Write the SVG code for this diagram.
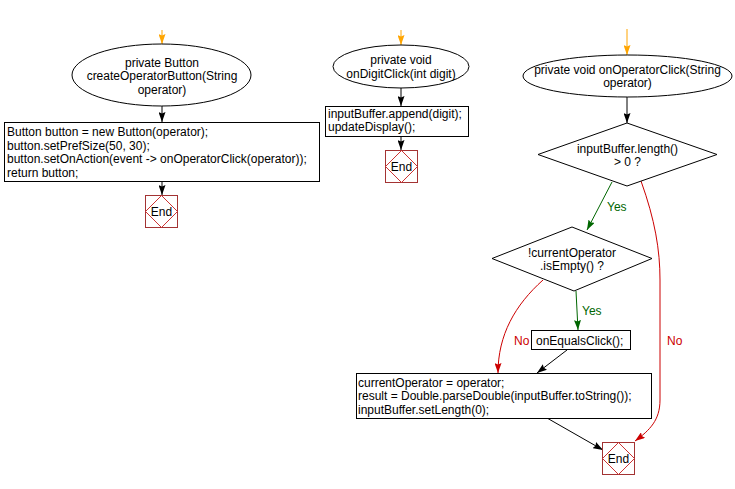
<svg xmlns="http://www.w3.org/2000/svg" width="735" height="489" viewBox="0 0 735 489">
<defs>
<marker id="ab" markerWidth="10" markerHeight="7" refX="10" refY="3.5" orient="auto" markerUnits="userSpaceOnUse" viewBox="0 0 10 7"><path d="M0,0 L10,3.5 L0,7 L1.5,3.5 Z" fill="#000"/></marker>
<marker id="ao" markerWidth="10" markerHeight="7" refX="10" refY="3.5" orient="auto" markerUnits="userSpaceOnUse" viewBox="0 0 10 7"><path d="M0,0 L10,3.5 L0,7 L1.5,3.5 Z" fill="#FFA500"/></marker>
<marker id="ag" markerWidth="10" markerHeight="7" refX="10" refY="3.5" orient="auto" markerUnits="userSpaceOnUse" viewBox="0 0 10 7"><path d="M0,0 L10,3.5 L0,7 L1.5,3.5 Z" fill="#006600"/></marker>
<marker id="ar" markerWidth="10" markerHeight="7" refX="10" refY="3.5" orient="auto" markerUnits="userSpaceOnUse" viewBox="0 0 10 7"><path d="M0,0 L10,3.5 L0,7 L1.5,3.5 Z" fill="#CC0000"/></marker>
</defs>
<style>
text{font-family:"Liberation Sans",Arial,sans-serif;font-size:12px;fill:#000}
.c{text-anchor:middle}
.shape{fill:#fff;stroke:#000;stroke-width:1}
.endbox{fill:#fff;stroke:#A33333;stroke-width:1}
.endd{fill:none;stroke:#CC3333;stroke-width:1}
.e{fill:none;stroke:#000;stroke-width:1;marker-end:url(#ab)}
.eo{fill:none;stroke:#FFA500;stroke-width:1;marker-end:url(#ao)}
.eg{fill:none;stroke:#006600;stroke-width:1;marker-end:url(#ag)}
.er{fill:none;stroke:#CC0000;stroke-width:1;marker-end:url(#ar)}
.lg{fill:#006600}
.lr{fill:#CC0000}
</style>
<rect width="735" height="489" fill="#fff"/>
<g id="connectors">
<path class="eo" d="M162,30 L162,44"/>
<path class="e" d="M162,106 L162,122"/>
<path class="e" d="M162,181 L162,195"/>
<path class="eo" d="M401,30 L401,45"/>
<path class="e" d="M401,88 L401,106"/>
<path class="e" d="M401,136 L401,150"/>
<path class="eo" d="M627,29 L627,55"/>
<path class="e" d="M627,97 L627,123"/>
<path class="eg" d="M612,182 L587,230"/>
<path class="er" d="M641,181 C655,220 660,250 660,280 L660,400 C660,420 650,430 635,441"/>
<path class="eg" d="M576,291 L578,330"/>
<path class="er" d="M543,280 C515,305 498,335 498,373"/>
<path class="e" d="M567,350 L537,373"/>
<path class="e" d="M547,418 L603,450"/>
<text class="lg" x="607" y="211">Yes</text>
<text class="lr" x="667" y="345">No</text>
<text class="lg" x="582" y="315">Yes</text>
<text class="lr" x="514" y="345">No</text>
</g>
<g id="start1">
<ellipse class="shape" cx="161.5" cy="75" rx="89.5" ry="31"/>
<text class="c" x="162" y="67">private Button</text>
<text class="c" x="162" y="80">createOperatorButton(String</text>
<text class="c" x="162" y="94">operator)</text>
</g>
<g id="proc1">
<rect class="shape" x="4.5" y="122.5" width="315" height="59"/>
<text x="7" y="136">Button button = new Button(operator);</text>
<text x="7" y="149.5">button.setPrefSize(50, 30);</text>
<text x="7" y="163">button.setOnAction(event -&gt; onOperatorClick(operator));</text>
<text x="7" y="176.5">return button;</text>
</g>
<g id="end1">
<rect class="endbox" x="145.5" y="195.5" width="32" height="32"/>
<path class="endd" d="M161.5,195.5 L177.5,211.5 L161.5,227.5 L145.5,211.5 Z"/>
<text class="c" x="161.5" y="216">End</text>
</g>
<g id="start2">
<ellipse class="shape" cx="401" cy="66.5" rx="68" ry="21.5"/>
<text class="c" x="401" y="64">private void</text>
<text class="c" x="401" y="77.5">onDigitClick(int digit)</text>
</g>
<g id="proc2">
<rect class="shape" x="325.5" y="106.5" width="143" height="30"/>
<text x="328" y="118">inputBuffer.append(digit);</text>
<text x="328" y="131">updateDisplay();</text>
</g>
<g id="end2">
<rect class="endbox" x="385.5" y="150.5" width="32" height="32"/>
<path class="endd" d="M401.5,150.5 L417.5,166.5 L401.5,182.5 L385.5,166.5 Z"/>
<text class="c" x="401.5" y="171">End</text>
</g>
<g id="start3">
<ellipse class="shape" cx="627.5" cy="76" rx="104.5" ry="21"/>
<text class="c" x="627.5" y="74">private void onOperatorClick(String</text>
<text class="c" x="627.5" y="87">operator)</text>
</g>
<g id="dec1">
<path class="shape" d="M627,123 L717,154.5 L627,186 L538,154.5 Z"/>
<text class="c" x="627.5" y="153">inputBuffer.length()</text>
<text class="c" x="627.5" y="166">&gt; 0 ?</text>
</g>
<g id="dec2">
<path class="shape" d="M572,227 L652,258.5 L574,291 L492,258.5 Z"/>
<text class="c" x="572" y="257">!currentOperator</text>
<text class="c" x="572" y="270">.isEmpty() ?</text>
</g>
<g id="proc3">
<rect class="shape" x="531.5" y="330.5" width="99" height="19"/>
<text x="536" y="345">onEqualsClick();</text>
</g>
<g id="proc4">
<rect class="shape" x="356.5" y="373.5" width="295" height="45"/>
<text x="358" y="387">currentOperator = operator;</text>
<text x="358" y="400">result = Double.parseDouble(inputBuffer.toString());</text>
<text x="358" y="414">inputBuffer.setLength(0);</text>
</g>
<g id="end3">
<rect class="endbox" x="602.5" y="442.5" width="32" height="32"/>
<path class="endd" d="M618.5,442.5 L634.5,458.5 L618.5,474.5 L602.5,458.5 Z"/>
<text class="c" x="618.5" y="463">End</text>
</g>
</svg>
